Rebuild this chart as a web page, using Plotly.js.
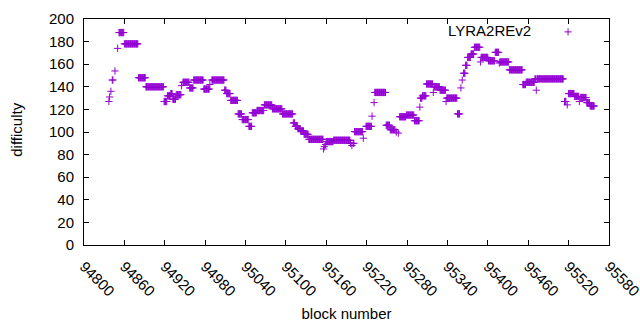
<!DOCTYPE html>
<html>
<head>
<meta charset="utf-8">
<script src="https://cdn.plot.ly/plotly-3.0.1.min.js"></script>
<style>html,body{margin:0;padding:0;background:#fff;}#chart{width:640px;height:330px;}</style>
</head>
<body>
<div id="chart"></div>
<script>
// Difficulty plateaus: first block, last block, difficulty
const runStart = [94837,94838,94840,94842,94846,94850,94852,94860,94881,94892,94919,94924,94929,94932,94937,94945,94947,94957,94963,94978,94987,94990,95009,95012,95018,95029,95035,95045,95050,95057,95068,95080,95095,95111,95114,95118,95122,95127,95134,95156,95157,95159,95160,95171,95196,95198,95200,95202,95215,95219,95228,95231,95232,95249,95255,95264,95267,95269,95279,95291,95299,95300,95303,95309,95319,95320,95329,95338,95339,95355,95360,95362,95364,95367,95370,95375,95380,95389,95390,95401,95411,95417,95418,95432,95452,95457,95470,95472,95473,95514,95518,95520,95529,95536,95538,95547,95552];
const runEnd   = [94837,94838,94840,94843,94846,94850,94859,94880,94891,94918,94923,94928,94931,94936,94944,94945,94956,94962,94977,94986,94987,95008,95011,95017,95028,95034,95044,95049,95056,95067,95079,95094,95110,95113,95117,95121,95126,95133,95155,95156,95157,95159,95170,95195,95196,95198,95201,95214,95215,95227,95228,95231,95248,95254,95262,95264,95267,95278,95290,95298,95299,95302,95308,95318,95319,95328,95337,95338,95354,95358,95360,95362,95366,95369,95374,95379,95388,95389,95400,95410,95416,95417,95431,95451,95456,95469,95471,95472,95512,95516,95518,95528,95535,95536,95546,95551,95558];
const runValue = [127,131,136,146,154,174,188,178,148,140,127,132,134,129,133,141,144,139,146,138,142,146,137,134,128,116,111,105,117,119,124,120.5,116,108,105,103,101,98,93.5,85,87,89,91.5,92.7,90,88,90,100.3,94.5,105,114,126,135,106,102,100,99,113.5,115,110,122,130,132,142.5,135,140,137,127,130,116,139,146,152,159,166,169,175,162,166,163,170.5,161,162,155,142,144,147,137,147,127,124,134,131.5,127,130.5,126,123];
const seriesName = "LYRA2REv2";
const xTicks = [94800,94860,94920,94980,95040,95100,95160,95220,95280,95340,95400,95460,95520,95580];
const yTicks = [0,20,40,60,80,100,120,140,160,180,200];

const blocks = [], difficulty = [];
for (let i = 0; i < runStart.length; i++) {
  for (let b = runStart[i]; b <= runEnd[i]; b++) { blocks.push(b); difficulty.push(runValue[i]); }
}

const color = '#9400D3';
const font = {family: '"Liberation Sans", Arial, sans-serif', size: 15, color: '#000'};

const trace = {
  x: blocks, y: difficulty, type: 'scatter', mode: 'markers', name: seriesName,
  marker: {symbol: 'cross-thin', size: 5.2, color: color, line: {color: color, width: 1}},
  showlegend: false, hoverinfo: 'skip', cliponaxis: false
};

const axisCommon = {
  showgrid: false, zeroline: false, showline: true, mirror: 'ticks',
  linecolor: '#000', linewidth: 1, ticks: 'inside', ticklen: 5, tickwidth: 1, tickcolor: '#000',
  tickfont: font, ticklabeloverflow: 'allow'
};

const layout = {
  width: 640, height: 330,
  margin: {l: 84, r: 31, t: 19, b: 85},
  paper_bgcolor: '#fff', plot_bgcolor: '#fff',
  font: font,
  xaxis: Object.assign({}, axisCommon, {
    range: [94800, 95580.05], tickmode: 'array', tickvals: xTicks, ticktext: xTicks.map(String),
    tickangle: 45, ticklabelstandoff: 6,
    title: {text: 'block number', font: font, standoff: 10}
  }),
  yaxis: Object.assign({}, axisCommon, {
    range: [0, 200], tickmode: 'array', tickvals: yTicks, ticktext: yTicks.map(String),
    ticklabelstandoff: 6
  }),
  annotations: [{
    xref: 'paper', yref: 'paper', x: 0.855, y: 0.947, xanchor: 'right', yanchor: 'middle',
    text: seriesName, showarrow: false, font: font
  }, {
    xref: 'paper', yref: 'paper', x: -0.128, y: 0.509, xanchor: 'center', yanchor: 'middle',
    text: 'difficulty', textangle: -90, showarrow: false, font: font
  }],
  shapes: [
    {type: 'line', xref: 'paper', yref: 'paper', xsizemode: 'pixel', ysizemode: 'pixel',
     xanchor: 0.922, yanchor: 0.943, x0: -3.6, x1: 3.6, y0: 0, y1: 0, line: {color: color, width: 1}},
    {type: 'line', xref: 'paper', yref: 'paper', xsizemode: 'pixel', ysizemode: 'pixel',
     xanchor: 0.922, yanchor: 0.943, x0: 0, x1: 0, y0: -3.6, y1: 3.6, line: {color: color, width: 1}}
  ]
};

Plotly.newPlot('chart', [trace], layout, {staticPlot: true, displayModeBar: false});
</script>
</body>
</html>
